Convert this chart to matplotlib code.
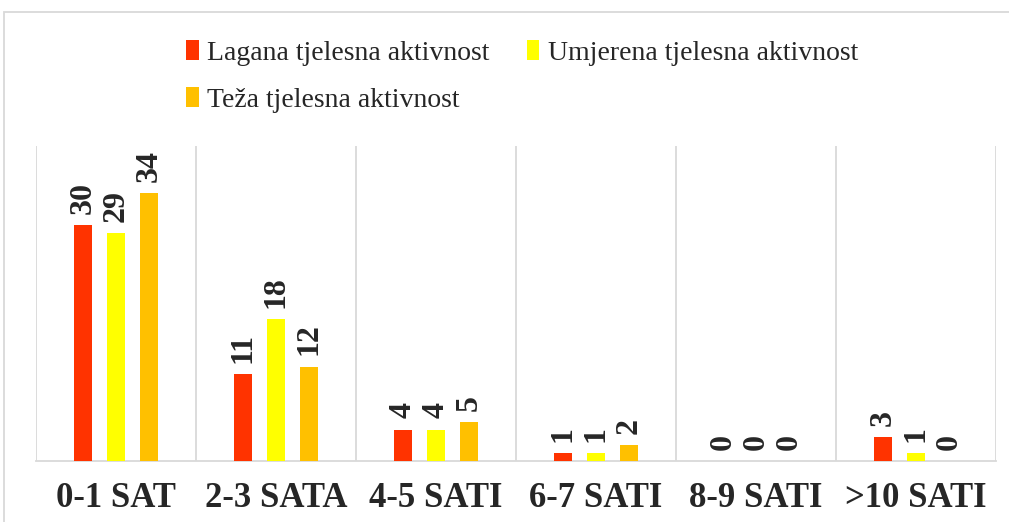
import matplotlib.pyplot as plt
import matplotlib.patches as patches
import numpy as np

# chart data
categories = ['0-1 SAT', '2-3 SATA', '4-5 SATI', '6-7 SATI', '8-9 SATI', '>10 SATI']
lagana = [30, 11, 4, 1, 0, 3]
umjerena = [29, 18, 4, 1, 0, 1]
teza = [34, 12, 5, 2, 0, 0]
series_names = ['Lagana tjelesna aktivnost', 'Umjerena tjelesna aktivnost', 'Teža tjelesna aktivnost']
colors = ['#FF3300', '#FFFF00', '#FFC000']

plt.rcParams['font.family'] = ['Liberation Serif', 'DejaVu Serif']
txt_color = '#262626'
grid_color = '#D9D9D9'

fig = plt.figure(figsize=(10.09, 5.22), dpi=100)
ax = fig.add_axes([36/1009, 1 - 461/522, 960/1009, 315/522])

# outer chart frame
fig.patches.append(patches.Rectangle((3.5/1009, -0.1), 1.2, 1 - 11.5/522 + 0.1,
                                     transform=fig.transFigure, fill=False,
                                     edgecolor=grid_color, lw=1.3, clip_on=False))

x = np.arange(len(categories))
step = 0.206
width = 0.1125
handles = []
for i, (vals, name, col) in enumerate(zip([lagana, umjerena, teza], series_names, colors)):
    bars = ax.bar(x + (i - 1) * step, vals, width, color=col, label=name, zorder=3)
    handles.append(bars)
    for b, v in zip(bars, vals):
        ax.annotate(str(v), (b.get_x() + b.get_width() / 2, b.get_height()),
                    xytext=(0, 8), textcoords='offset points', rotation=90,
                    ha='center', va='bottom', fontsize=23, fontweight='bold',
                    color=txt_color)

ax.set_xlim(-0.5, len(categories) - 0.5)
ax.set_ylim(0, 40)
ax.set_yticks([])
ax.set_xticks(x)
ax.set_xticklabels(categories, fontsize=25, fontweight='bold', color=txt_color)
ax.set_xticks(np.arange(len(categories) + 1) - 0.5, minor=True)
ax.tick_params(axis='x', which='both', length=0, pad=15)
ax.grid(which='minor', axis='x', color=grid_color, lw=1.3, zorder=0)
for s in ['top', 'left', 'right']:
    ax.spines[s].set_visible(False)
ax.spines['bottom'].set_color(grid_color)
ax.spines['bottom'].set_linewidth(1.3)

# legend: row-wise order in two columns
order = [0, 2, 1]
leg = fig.legend([handles[k] for k in order], [series_names[k] for k in order],
                 ncol=2, loc='upper left', bbox_to_anchor=(161/1009, 1 - 15/522),
                 frameon=False, fontsize=20, handlelength=0.45, handleheight=0.75,
                 handletextpad=0.3, columnspacing=1.35, labelspacing=0.75)
for t in leg.get_texts():
    t.set_color(txt_color)

fig.savefig('out.png', dpi=100)
